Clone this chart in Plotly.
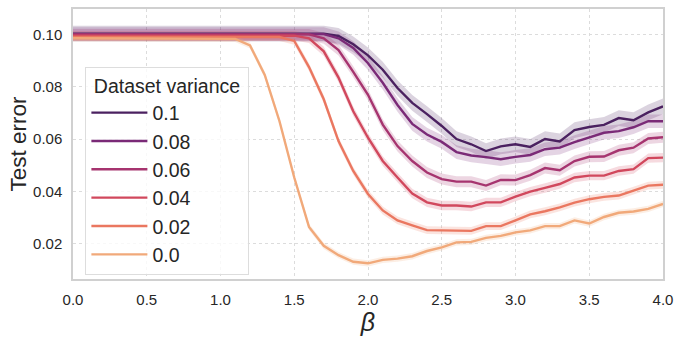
import plotly.graph_objects as go

beta = [0.0, 0.1, 0.2, 0.3, 0.4, 0.5, 0.6, 0.7, 0.8, 0.9,
        1.0, 1.1, 1.2, 1.3, 1.4, 1.5, 1.6, 1.7, 1.8, 1.9,
        2.0, 2.1, 2.2, 2.3, 2.4, 2.5, 2.6, 2.7, 2.8, 2.9,
        3.0, 3.1, 3.2, 3.3, 3.4, 3.5, 3.6, 3.7, 3.8, 3.9, 4.0]

err_v10 = [0.1003] * 18 + [0.0994, 0.0962, 0.0920, 0.0865, 0.0795, 0.0738, 0.0695, 0.0650,
                           0.0600, 0.0580, 0.0554, 0.0572, 0.0580, 0.0570, 0.0600, 0.0591,
                           0.0634, 0.0646, 0.0654, 0.0680, 0.0672, 0.0702, 0.0725]
err_v08 = [0.1001] * 18 + [0.0985, 0.0948, 0.0890, 0.0815, 0.0730, 0.0658, 0.0617, 0.0589,
                           0.0550, 0.0537, 0.0531, 0.0523, 0.0532, 0.0539, 0.0561, 0.0567,
                           0.0588, 0.0605, 0.0624, 0.0630, 0.0645, 0.0668, 0.0668]
err_v06 = [0.1000] * 17 + [0.0985, 0.0940, 0.0857, 0.0769, 0.0655, 0.0573, 0.0516, 0.0472,
                           0.0447, 0.0437, 0.0437, 0.0422, 0.0444, 0.0443, 0.0462, 0.0489,
                           0.0481, 0.0516, 0.0532, 0.0533, 0.0557, 0.0567, 0.0602, 0.0607]
err_v04 = [0.0995] * 16 + [0.0985, 0.0935, 0.0835, 0.0706, 0.0605, 0.0516, 0.0453, 0.0392,
                           0.0358, 0.0346, 0.0346, 0.0342, 0.0358, 0.0358, 0.0380, 0.0399,
                           0.0413, 0.0428, 0.0453, 0.0460, 0.0460, 0.0478, 0.0485, 0.0527, 0.0529]
err_v02 = [0.0990] * 15 + [0.0975, 0.0875, 0.0752, 0.0592, 0.0478, 0.0390, 0.0327, 0.0289,
                           0.0270, 0.0252, 0.0251, 0.0251, 0.0249, 0.0267, 0.0267, 0.0289,
                           0.0312, 0.0324, 0.0339, 0.0357, 0.0370, 0.0379, 0.0384, 0.0403,
                           0.0422, 0.0425]
err_v00 = [0.0985] * 11 + [0.0983, 0.0958, 0.0845, 0.0668, 0.0453, 0.0264, 0.0192, 0.0156,
                           0.0131, 0.0125, 0.0138, 0.0143, 0.0152, 0.0172, 0.0186, 0.0205,
                           0.0207, 0.0222, 0.0230, 0.0243, 0.0251, 0.0267, 0.0267, 0.0289,
                           0.0277, 0.0302, 0.0318, 0.0323, 0.0333, 0.0352]

labels = ["0.1", "0.08", "0.06", "0.04", "0.02", "0.0"]
series = [err_v10, err_v08, err_v06, err_v04, err_v02, err_v00]
half_width = [0.0030, 0.0026, 0.0021, 0.0018, 0.0015, 0.0012]
colors = ["#4b2160", "#7a2a77", "#a6346f", "#d1485d", "#ea7760", "#f1a97a"]

x_ticks = [0.0, 0.5, 1.0, 1.5, 2.0, 2.5, 3.0, 3.5, 4.0]
y_ticks = [0.02, 0.04, 0.06, 0.08, 0.10]


def rgba(hex_color, a):
    h = hex_color.lstrip("#")
    r, g, b = int(h[0:2], 16), int(h[2:4], 16), int(h[4:6], 16)
    return f"rgba({r},{g},{b},{a})"


fig = go.Figure()
for lab, ys, hw, col in zip(labels, series, half_width, colors):
    upper = [v + hw for v in ys]
    lower = [v - hw for v in ys]
    fig.add_trace(go.Scatter(x=beta, y=upper, mode="lines", line=dict(width=0, color=col),
                             showlegend=False, hoverinfo="skip", legendgroup=lab))
    fig.add_trace(go.Scatter(x=beta, y=lower, mode="lines", line=dict(width=0, color=col),
                             fill="tonexty", fillcolor=rgba(col, 0.2),
                             showlegend=False, hoverinfo="skip", legendgroup=lab))
for lab, ys, col in zip(labels, series, colors):
    fig.add_trace(go.Scatter(x=beta, y=ys, mode="lines", name=lab,
                             line=dict(color=col, width=2.4), legendgroup=lab))

font_family = "Liberation Sans, Arial, sans-serif"
fig.update_layout(
    width=685, height=337,
    margin=dict(l=73, r=22, t=7, b=58),
    paper_bgcolor="white", plot_bgcolor="white",
    font=dict(family=font_family, color="#262626"),
    legend=dict(
        title=dict(text="\u00a0Dataset variance\u00a0",
                   font=dict(size=19.5, color="#262626")),
        font=dict(size=19.5, color="#262626"),
        x=0.021, y=0.785, xanchor="left", yanchor="top",
        bgcolor="rgba(255,255,255,0.8)", bordercolor="#dddddd", borderwidth=1,
        tracegroupgap=0, traceorder="grouped", itemwidth=56,
    ),
    xaxis=dict(
        range=[0, 4], tickvals=x_ticks, tickformat=".1f",
        tickfont=dict(size=15, color="#262626"), ticklabelstandoff=6,
        showgrid=True, gridcolor="#dcdcdc", griddash="dot", gridwidth=1,
        showline=True, mirror=True, linecolor="#d0d0d0", linewidth=1.5,
        zeroline=False, ticks="",
        title=dict(text="<i>β</i>", font=dict(size=25, color="#262626"), standoff=0),
    ),
    yaxis=dict(
        range=[0.0065, 0.1097], tickvals=y_ticks, tickformat=".2f",
        tickfont=dict(size=15, color="#262626"), ticklabelstandoff=6,
        showgrid=True, gridcolor="#dcdcdc", griddash="dot", gridwidth=1,
        showline=True, mirror=True, linecolor="#d0d0d0", linewidth=1.5,
        zeroline=False, ticks="",
        title=dict(text="Test error", font=dict(size=22.5, color="#262626"), standoff=0),
    ),
)

fig.write_html("out.html", config={"displayModeBar": False},
               post_script="document.body.style.margin='0';")
